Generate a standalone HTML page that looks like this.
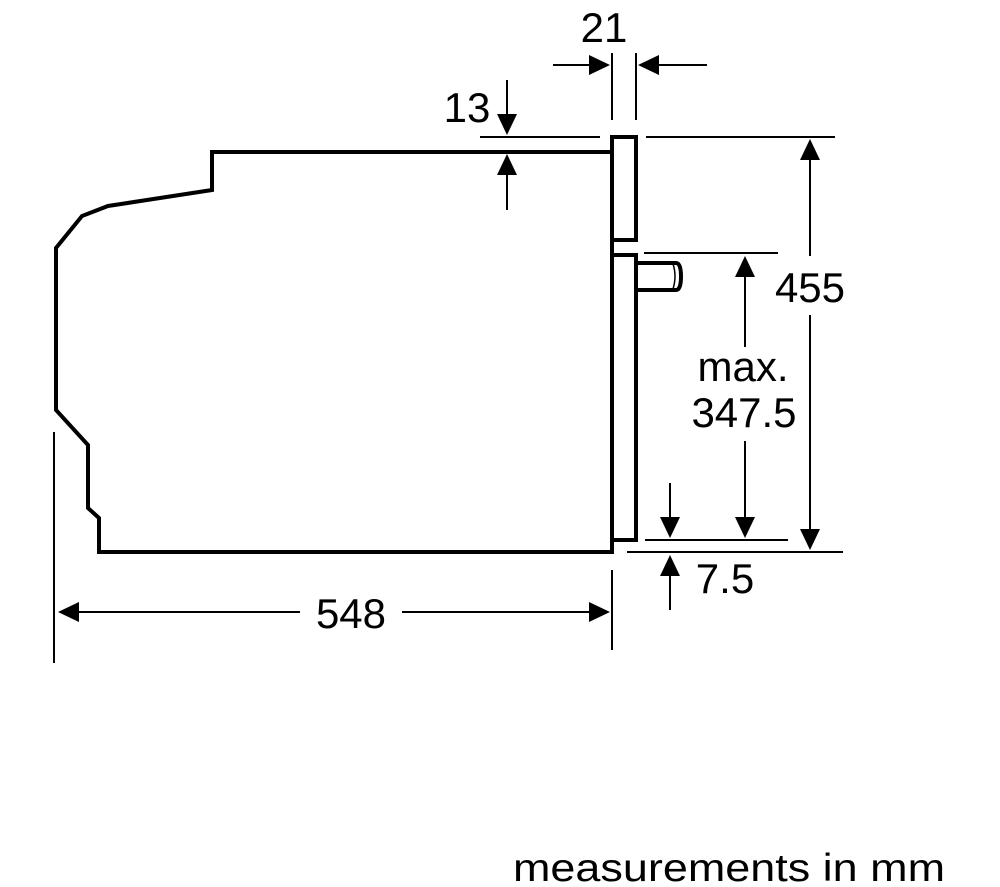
<!DOCTYPE html>
<html><head><meta charset="utf-8"><style>html,body{margin:0;padding:0;background:#fff}svg{display:block}</style></head>
<body>
<svg width="1000" height="887" viewBox="0 0 1000 887" xmlns="http://www.w3.org/2000/svg">
<g fill="none" stroke="#000" stroke-width="4" stroke-linejoin="miter">
<polyline points="612,152 212,152 212,190 108,206 82,216 56,248 56,410 88,445 88,508 99,518 99,552 612,552 612,540"/>
<polyline points="612,240 612,137 636,137 636,240 612,240 612,255"/>
<polyline points="612,540 612,255 636,255 636,540 612,540"/>
<path d="M636,263 H676 Q681,263 681,276.5 Q681,290 676,290 H636"/>
<path d="M673,264 Q677,276 673,289" stroke-width="1.5"/>
</g>
<g stroke="#000" stroke-width="2" fill="none">
<line x1="480" y1="137" x2="600" y2="137"/>
<line x1="646" y1="137" x2="835" y2="137"/>
<line x1="612" y1="53" x2="612" y2="120"/>
<line x1="636" y1="53" x2="636" y2="120"/>
<line x1="553" y1="65" x2="595" y2="65"/>
<line x1="655" y1="65" x2="707" y2="65"/>
<line x1="507" y1="80" x2="507" y2="120"/>
<line x1="507" y1="170" x2="507" y2="210"/>
<line x1="644" y1="253" x2="778" y2="253"/>
<line x1="745" y1="272" x2="745" y2="347"/>
<line x1="745" y1="441" x2="745" y2="522"/>
<line x1="810" y1="155" x2="810" y2="256"/>
<line x1="810" y1="315" x2="810" y2="534"/>
<line x1="645" y1="540" x2="788" y2="540"/>
<line x1="627" y1="552" x2="843" y2="552"/>
<line x1="670" y1="483" x2="670" y2="522"/>
<line x1="670" y1="572" x2="670" y2="610"/>
<line x1="54" y1="432" x2="54" y2="663"/>
<line x1="612" y1="570" x2="612" y2="650"/>
<line x1="74" y1="612" x2="300" y2="612"/>
<line x1="402" y1="612" x2="594" y2="612"/>
</g>
<g fill="#000">
<polygon points="610,65 589,55 589,75"/>
<polygon points="638,65 659,55 659,75"/>
<polygon points="507,135 497,114 517,114"/>
<polygon points="507,154 497,175 517,175"/>
<polygon points="745,256 735,277 755,277"/>
<polygon points="745,538 735,517 755,517"/>
<polygon points="810,139 800,160 820,160"/>
<polygon points="810,550 800,529 820,529"/>
<polygon points="670,538 660,517 680,517"/>
<polygon points="670,555 660,576 680,576"/>
<polygon points="58,612 79,602 79,622"/>
<polygon points="610,612 589,602 589,622"/>
</g>
<g font-family="Liberation Sans, Arial, sans-serif" font-size="42" fill="#000" text-anchor="middle">
<text x="604" y="42">21</text>
<text x="467" y="122">13</text>
<text x="810" y="302">455</text>
<text x="743" y="381">max.</text>
<text x="744" y="427">347.5</text>
<text x="725" y="593">7.5</text>
<text x="351" y="628">548</text>
<text x="729" y="881" font-size="39" textLength="432" lengthAdjust="spacingAndGlyphs">measurements in mm</text>
</g>
</svg>
</body></html>
